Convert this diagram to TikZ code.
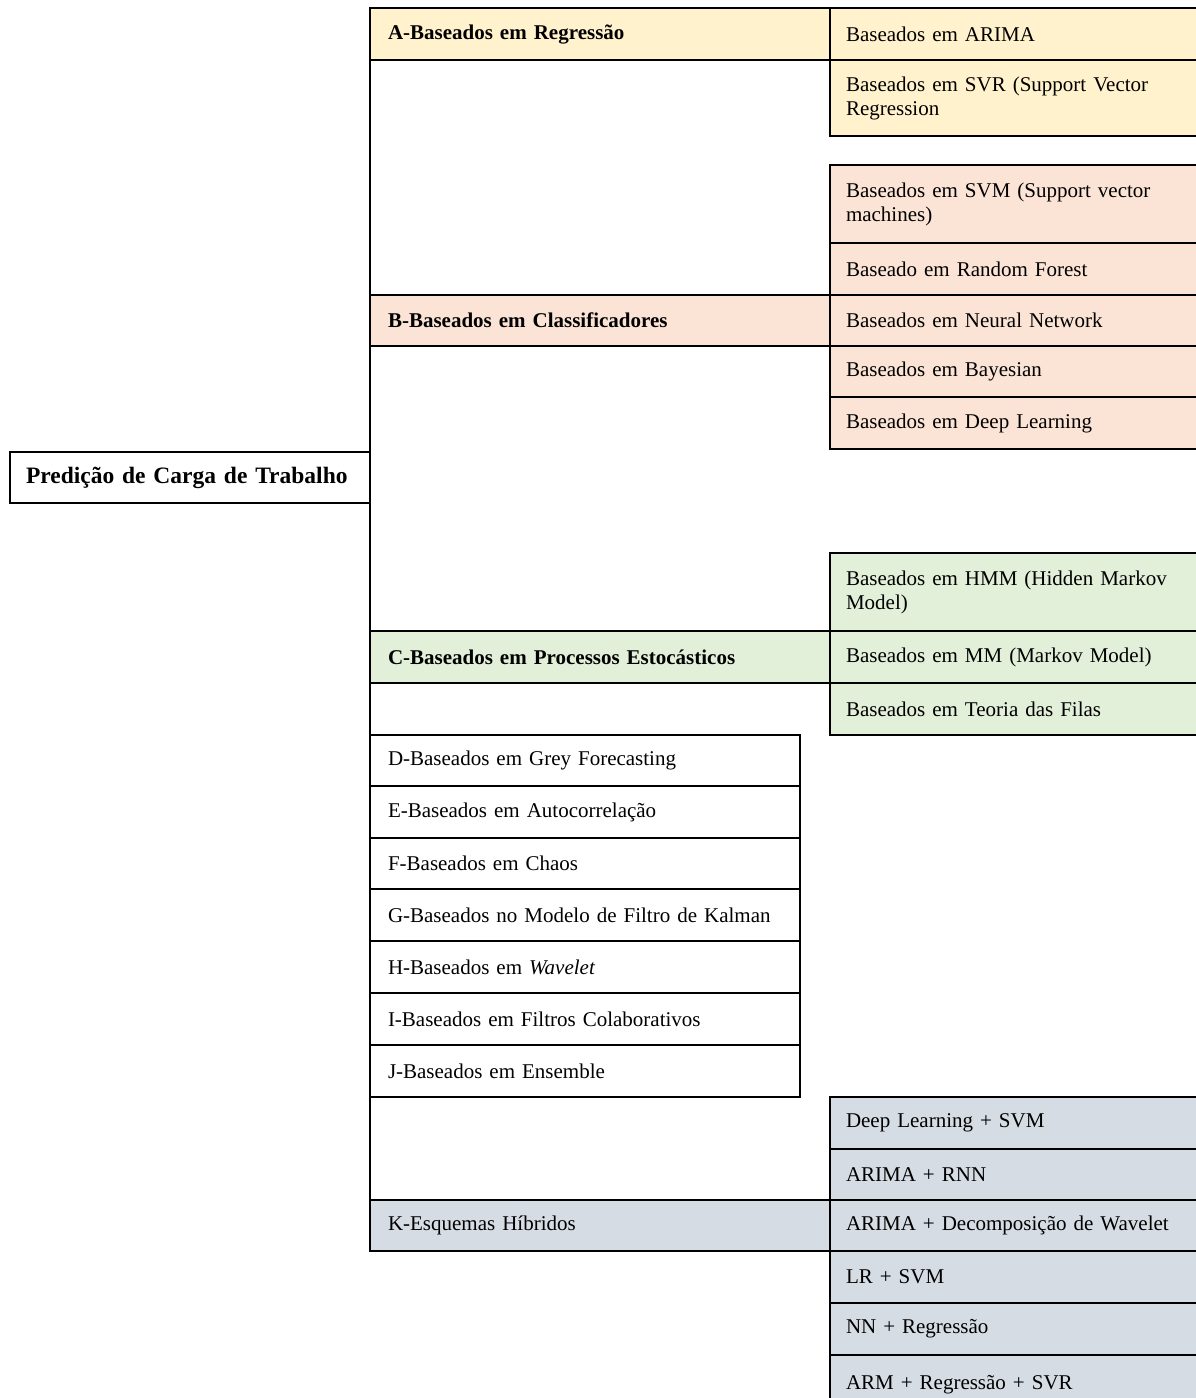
\documentclass[tikz,border=0pt]{standalone}
\usepackage{fontspec}
\setmainfont{Liberation Serif}
\definecolor{cA}{HTML}{FFF2CC}
\definecolor{cB}{HTML}{FBE4D5}
\definecolor{cC}{HTML}{E2EFD9}
\definecolor{cK}{HTML}{D6DCE4}
\begin{document}
\begin{tikzpicture}[x=1pt,y=-1pt,
  cell/.style={draw, line width=2pt, rectangle, anchor=north west, outer sep=0pt,
    inner ysep=0pt, align=left, font=\fontsize{21}{24}\selectfont},
  cat/.style={cell, text width=424pt, inner xsep=18pt},
  other/.style={cell, text width=394pt, inner xsep=18pt},
  sub/.style={cell, text width=360pt, inner xsep=16pt},
  rootbox/.style={cell, text width=328pt, inner xsep=16pt, font=\fontsize{23.5}{28}\selectfont\bfseries}]
\useasboundingbox (0,0) rectangle (1196,1398);
\clip (0,0) rectangle (1196,1398);
% root
\node[rootbox, minimum height=51pt] (root) at (10,452) {\mbox{Predição de Carga de Trabalho}};
% A group
\node[cat, fill=cA, minimum height=52pt, font=\fontsize{21}{24}\selectfont\bfseries] (A) at (370,8) {A-Baseados em Regressão};
\node[sub, fill=cA, minimum height=52pt] (a1) at (830,8) {Baseados em ARIMA};
\node[sub, fill=cA, minimum height=76pt] (a2) at (830,60) {Baseados em SVR (Support Vector\\Regression};
% B group
\node[sub, fill=cB, minimum height=78pt] (b1) at (830,165) {Baseados em SVM (Support vector\\machines)};
\node[sub, fill=cB, minimum height=52pt] (b2) at (830,243) {Baseado em Random Forest};
\node[sub, fill=cB, minimum height=51pt] (b3) at (830,295) {Baseados em Neural Network};
\node[sub, fill=cB, minimum height=51pt] (b4) at (830,346) {Baseados em Bayesian};
\node[sub, fill=cB, minimum height=52pt] (b5) at (830,397) {Baseados em Deep Learning};
\node[cat, fill=cB, minimum height=51pt, font=\fontsize{21}{24}\selectfont\bfseries] (B) at (370,295) {B-Baseados em Classificadores};
% C group
\node[sub, fill=cC, minimum height=78pt] (c1) at (830,553) {Baseados em HMM (Hidden Markov\\Model)};
\node[sub, fill=cC, minimum height=52pt] (c2) at (830,631) {Baseados em MM (Markov Model)};
\node[sub, fill=cC, minimum height=52pt] (c3) at (830,683) {Baseados em Teoria das Filas};
\node[cat, fill=cC, minimum height=52pt, font=\fontsize{21}{24}\selectfont\bfseries] (C) at (370,631) {C-Baseados em Processos Estocásticos};
% D-J
\node[other, minimum height=51pt] (D) at (370,735) {D-Baseados em Grey Forecasting};
\node[other, minimum height=52pt] (E) at (370,786) {E-Baseados em Autocorrelação};
\node[other, minimum height=51pt] (F) at (370,838) {F-Baseados em Chaos};
\node[other, minimum height=52pt] (G) at (370,889) {G-Baseados no Modelo de Filtro de Kalman};
\node[other, minimum height=52pt] (H) at (370,941) {H-Baseados em \textit{Wavelet}};
\node[other, minimum height=52pt] (I) at (370,993) {I-Baseados em Filtros Colaborativos};
\node[other, minimum height=52pt] (J) at (370,1045) {J-Baseados em Ensemble};
% K group
\node[sub, fill=cK, minimum height=52pt] (k1) at (830,1097) {Deep Learning + SVM};
\node[sub, fill=cK, minimum height=51pt] (k2) at (830,1149) {ARIMA + RNN};
\node[sub, fill=cK, minimum height=51pt] (k3) at (830,1200) {ARIMA + Decomposição de Wavelet};
\node[sub, fill=cK, minimum height=52pt] (k4) at (830,1251) {LR + SVM};
\node[sub, fill=cK, minimum height=52pt] (k5) at (830,1303) {NN + Regressão};
\node[sub, fill=cK, minimum height=60pt] (k6) at (830,1355) {ARM + Regressão + SVR};
\node[cat, fill=cK, minimum height=51pt] (K) at (370,1200) {K-Esquemas Híbridos};
% trunk
\draw[line width=2pt] (A.north west) -- (K.south west);
\end{tikzpicture}
\end{document}
